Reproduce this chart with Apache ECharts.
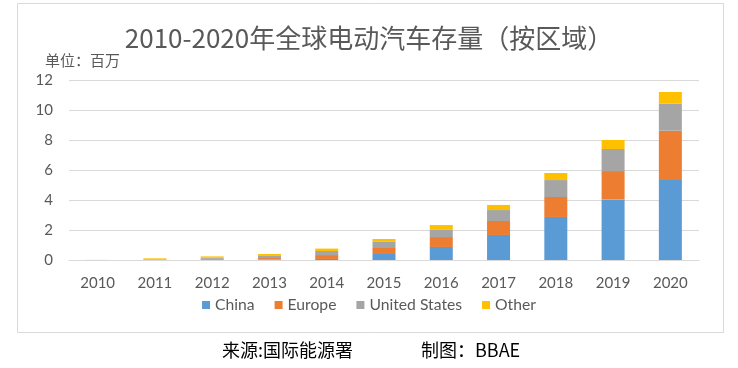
<!DOCTYPE html>
<html>
<head>
<meta charset="utf-8">
<script src="https://cdn.jsdelivr.net/npm/echarts@6/dist/echarts.min.js"></script>
<style>html,body{margin:0;padding:0;background:#fff}#c{width:738px;height:368px}</style>
</head>
<body>
<div id="c"></div>
<script>
const years = ['2010','2011','2012','2013','2014','2015','2016','2017','2018','2019','2020'];
const china = [0.003, 0.01, 0.02, 0.03, 0.07, 0.40, 0.87, 1.67, 2.87, 4.04, 5.33];
const europe = [0.002, 0.02, 0.06, 0.10, 0.26, 0.40, 0.66, 0.93, 1.33, 1.89, 3.29];
const us = [0.002, 0.02, 0.08, 0.14, 0.27, 0.44, 0.51, 0.73, 1.13, 1.47, 1.80];
const other = [0.003, 0.06, 0.08, 0.13, 0.16, 0.16, 0.29, 0.34, 0.47, 0.60, 0.78];
const yTicks = [0, 2, 4, 6, 8, 10, 12];

const latin = 'Lato, "Noto Sans", sans-serif';
const cjk = '"Noto Sans CJK SC", sans-serif';
const chart = echarts.init(document.getElementById('c'));
function bar(name, data, color) {
  return { name, type: 'bar', stack: 'total', data, barWidth: 23, itemStyle: { color }, animation: false };
}
chart.setOption({
  animation: false,
  title: {
    text: '2010-2020年全球电动汽车存量（按区域）',
    left: 'center', top: 20,
    textStyle: { fontFamily: cjk, fontSize: 26, fontWeight: 'normal', color: '#595959' }
  },
  legend: {
    top: 292, left: 'center',
    itemWidth: 8, itemHeight: 8, itemGap: 20,
    icon: 'rect',
    textStyle: { fontFamily: latin, fontSize: 15.7, color: '#595959' },
    data: ['China', 'Europe', 'United States', 'Other']
  },
  grid: { left: 69, right: 39, top: 80, bottom: 108 },
  xAxis: {
    type: 'category', data: years,
    axisLine: { lineStyle: { color: '#d9d9d9' } },
    axisTick: { show: false },
    axisLabel: { fontFamily: latin, fontSize: 15, color: '#595959', margin: 16 }
  },
  yAxis: {
    type: 'value', min: 0, max: 12, interval: 2,
    axisLine: { show: false }, axisTick: { show: false },
    splitLine: { lineStyle: { color: '#d9d9d9' } },
    axisLabel: { fontFamily: latin, fontSize: 15, color: '#595959', margin: 16,
      formatter: v => yTicks.includes(v) ? String(v) : '' }
  },
  graphic: [
    { type: 'rect', shape: { x: 17.5, y: 3.5, width: 706, height: 329 }, style: { fill: 'none', stroke: '#d9d9d9', lineWidth: 1 }, silent: true, z: -1 },
    { type: 'text', left: 45, top: 53, style: { text: '单位：百万', fontFamily: cjk, fontSize: 15, fill: '#595959' } },
    { type: 'text', left: 222, top: 341, style: { text: '来源:国际能源署', fontFamily: cjk, fontSize: 18, fill: '#000' } },
    { type: 'text', left: 421, top: 341, style: { text: '制图：BBAE', fontFamily: cjk, fontSize: 18, fill: '#000' } }
  ],
  series: [
    bar('China', china, '#5B9BD5'),
    bar('Europe', europe, '#ED7D31'),
    bar('United States', us, '#A5A5A5'),
    bar('Other', other, '#FFC000')
  ]
});
</script>
</body>
</html>
